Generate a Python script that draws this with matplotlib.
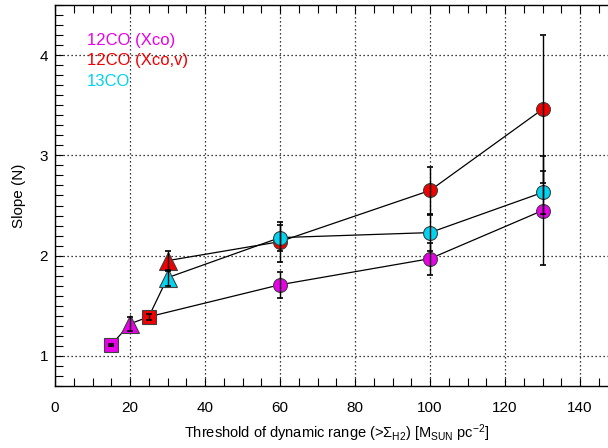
import matplotlib
matplotlib.use("Agg")
import matplotlib.pyplot as plt
from matplotlib.ticker import MultipleLocator

plt.rcParams['font.family'] = ['Liberation Sans', 'DejaVu Sans']
plt.rcParams['mathtext.fontset'] = 'custom'
plt.rcParams['mathtext.rm'] = 'Liberation Sans'
plt.rcParams['mathtext.it'] = 'Liberation Sans'
plt.rcParams['mathtext.bf'] = 'Liberation Sans'

# 12CO (Xco)
mag_x = [15, 20, 60, 100, 130]
mag_y = [1.11, 1.32, 1.71, 1.97, 2.45]
mag_err = [0.01, 0.07, 0.13, 0.16, 0.54]
mag_mk = ['s', '^', 'o', 'o', 'o']

# 12CO (Xco,v)
red_x = [25, 30, 60, 100, 130]
red_y = [1.39, 1.95, 2.14, 2.65, 3.46]
red_err = [0.03, 0.10, 0.20, 0.23, 0.74]
red_mk = ['s', '^', 'o', 'o', 'o']

# 13CO
cyan_x = [30, 60, 100, 130]
cyan_y = [1.78, 2.18, 2.23, 2.63]
cyan_err = [0.08, 0.13, 0.18, 0.21]
cyan_mk = ['^', 'o', 'o', 'o']

labels = ['12CO (Xco)', '12CO (Xco,v)', '13CO']
colors = ['#E800E8', '#F00000', '#00D4F0']

# connecting lines as drawn in the original
path1_x = mag_x[:2] + red_x[:1] + mag_x[2:]
path1_y = mag_y[:2] + red_y[:1] + mag_y[2:]
path2_x = red_x[:1] + cyan_x
path2_y = red_y[:1] + cyan_y
path3_x = red_x[1:]
path3_y = red_y[1:]

fig = plt.figure(figsize=(6.08, 4.48), dpi=100)
ax = fig.add_axes([55 / 608, 62 / 448, 562.5 / 608, 381 / 448])

for px, py in [(path1_x, path1_y), (path2_x, path2_y), (path3_x, path3_y)]:
    ax.plot(px, py, color='black', lw=0.9, zorder=2)

msize = {'o': 10, '^': 12.5, 's': 9.5}
series = [(mag_x, mag_y, mag_err, mag_mk), (red_x, red_y, red_err, red_mk),
          (cyan_x, cyan_y, cyan_err, cyan_mk)]
for (xs, ys, es, mks), col in zip(series, colors):
    for x, y, e, m in zip(xs, ys, es, mks):
        ax.plot(x, y, marker=m, ms=msize[m], mfc=col, mec='#404040',
                mew=0.8, ls='none', zorder=3)
    ax.errorbar(xs, ys, yerr=es, fmt='none', ecolor='black', elinewidth=1.0,
                capsize=2.5, capthick=1.2, zorder=4)

ax.set_xlim(0, 150)
ax.set_ylim(0.7, 4.5)
ax.xaxis.set_major_locator(MultipleLocator(20))
ax.xaxis.set_minor_locator(MultipleLocator(5))
ax.yaxis.set_major_locator(MultipleLocator(1))
ax.yaxis.set_minor_locator(MultipleLocator(0.1))
ax.grid(True, which='major', color='black', linestyle=(0, (1, 2.2)), lw=0.9)
ax.tick_params(which='both', direction='in', top=True, right=True,
               length=5.5, width=0.8, labelsize=11, colors='black')
ax.tick_params(axis='x', which='major', pad=11)
ax.tick_params(axis='y', which='major', pad=5)
for sp in ax.spines.values():
    sp.set_linewidth(1.0)

ax.set_xlabel(r'Threshold of dynamic range (>$\Sigma_{\rm H2}$) [M$_{\rm SUN}$ pc$^{-2}$]',
              fontsize=10.5, labelpad=5)
ax.set_ylabel('Slope (N)', fontsize=11, labelpad=10)

for i, (lab, col) in enumerate(zip(labels, colors)):
    ax.text(8.5, 4.15 - 0.205 * i, lab, color=col, fontsize=12,
            ha='left', va='center', zorder=5)

fig.savefig('out.png', dpi=100)
